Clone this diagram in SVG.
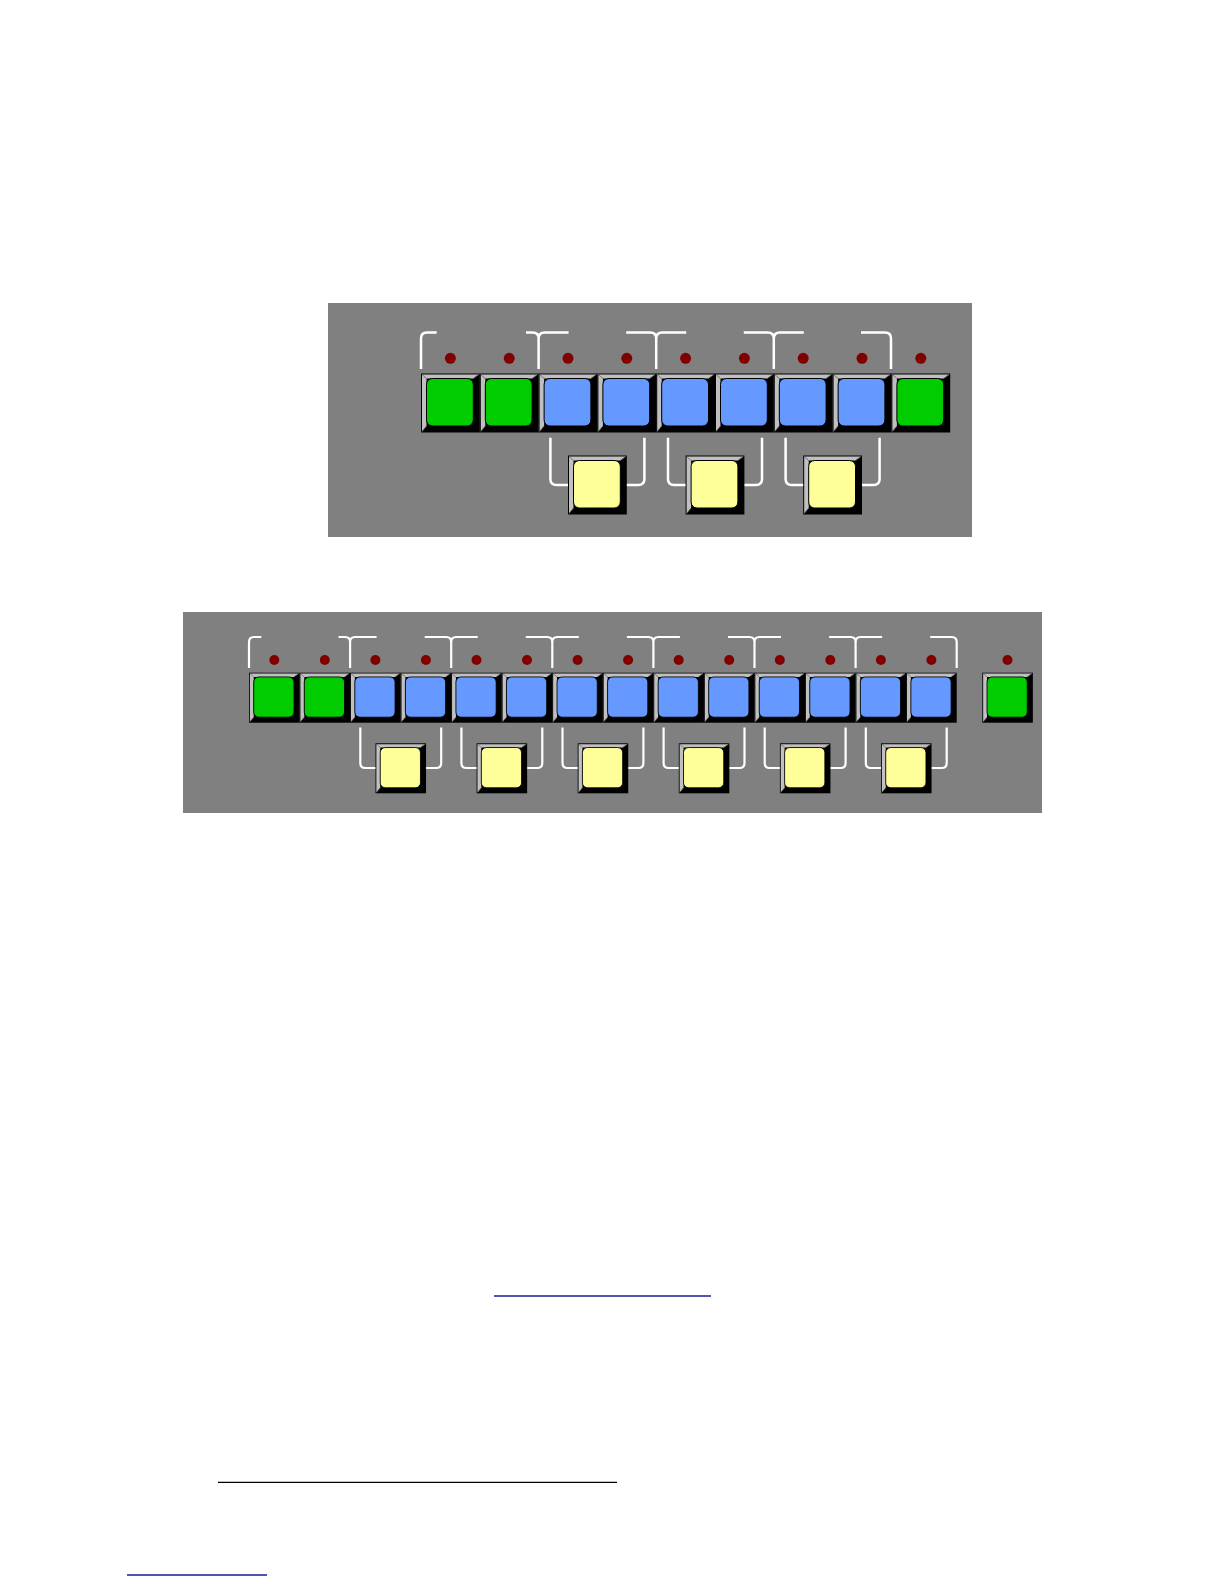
<svg xmlns="http://www.w3.org/2000/svg" xmlns:xlink="http://www.w3.org/1999/xlink" width="1224" height="1584" viewBox="0 0 1224 1584">
<style>
.panel{fill:#808080}
.br1{fill:none;stroke:#ffffff;stroke-width:2.5;stroke-linecap:butt}
.br2{fill:none;stroke:#ffffff;stroke-width:2.2;stroke-linecap:butt}
.led{fill:#800000}
.g{fill:#00cc00}
.b{fill:#6699ff}
.y{fill:#ffff99}
</style>
<defs>
<g id="btn">
<rect x="0" y="0" width="58.8" height="59" fill="#000000"/>
<polygon points="1,1 57.8,1 52.3,5 5.5,5 5.5,52.5 1,58" fill="#c0c0c0"/>
<path d="M1,1 L5.5,5 M57.8,1 L52.3,5 M1,58 L5.5,52.5" stroke="#606060" stroke-width="0.8" fill="none"/>
<rect x="5.5" y="5" width="46.8" height="47.5" rx="6" ry="6" stroke="#000000" stroke-width="1"/>
</g>
</defs>
<rect x="0" y="0" width="1224" height="1584" fill="#ffffff"/>

<g id="panel1">
<rect class="panel" x="328" y="303" width="644" height="234"/>
</g>
<g id="panel2">
<rect class="panel" x="183" y="612" width="859" height="201"/>
</g>

<g id="connectors">
<!-- panel 1 top brackets -->
<path class="br1" d="M421,369 V338.5 Q421,332.5 427,332.5 H436.7"/>
<path class="br1" d="M526,332.5 H532.6 Q538.6,332.5 538.6,338.5 V369 M568.6,332.5 H544.6 Q538.6,332.5 538.6,338.5"/>
<path class="br1" d="M626.2,332.5 H650.2 Q656.2,332.5 656.2,338.5 V369 M686.2,332.5 H662.2 Q656.2,332.5 656.2,338.5"/>
<path class="br1" d="M743.8,332.5 H767.8 Q773.8,332.5 773.8,338.5 V369 M803.8,332.5 H779.8 Q773.8,332.5 773.8,338.5"/>
<path class="br1" d="M861,332.5 H885 Q891,332.5 891,338.5 V369"/>
<!-- panel 1 bottom brackets -->
<path class="br1" d="M550.4,437.7 V479 Q550.4,485 556.4,485 H638.4 Q644.4,485 644.4,479 V437.7"/>
<path class="br1" d="M668,437.7 V479 Q668,485 674,485 H756 Q762,485 762,479 V437.7"/>
<path class="br1" d="M785.6,437.7 V479 Q785.6,485 791.6,485 H873.6 Q879.6,485 879.6,479 V437.7"/>
<!-- panel 2 top brackets -->
<path class="br2" d="M249,668 V642 Q249,637 254,637 H261.3"/>
<path class="br2" d="M338.5,637 H345.1 Q350.1,637 350.1,642 V668 M376.6,637 H355.1 Q350.1,637 350.1,642"/>
<path class="br2" d="M424.7,637 H446.2 Q451.2,637 451.2,642 V668 M477.7,637 H456.2 Q451.2,637 451.2,642"/>
<path class="br2" d="M525.8,637 H547.3 Q552.3,637 552.3,642 V668 M578.8,637 H557.3 Q552.3,637 552.3,642"/>
<path class="br2" d="M626.9,637 H648.4 Q653.4,637 653.4,642 V668 M679.9,637 H658.4 Q653.4,637 653.4,642"/>
<path class="br2" d="M728,637 H749.5 Q754.5,637 754.5,642 V668 M781,637 H759.5 Q754.5,637 754.5,642"/>
<path class="br2" d="M829.1,637 H850.6 Q855.6,637 855.6,642 V668 M882.1,637 H860.6 Q855.6,637 855.6,642"/>
<path class="br2" d="M930.2,637 H951.7 Q956.7,637 956.7,642 V668"/>
<!-- panel 2 bottom brackets -->
<path class="br2" d="M360.3,727.5 V763 Q360.3,768 365.3,768 H436.2 Q441.2,768 441.2,763 V727.5"/>
<path class="br2" d="M461.4,727.5 V763 Q461.4,768 466.4,768 H537.3 Q542.3,768 542.3,763 V727.5"/>
<path class="br2" d="M562.5,727.5 V763 Q562.5,768 567.5,768 H638.4 Q643.4,768 643.4,763 V727.5"/>
<path class="br2" d="M663.6,727.5 V763 Q663.6,768 668.6,768 H739.5 Q744.5,768 744.5,763 V727.5"/>
<path class="br2" d="M764.7,727.5 V763 Q764.7,768 769.7,768 H840.6 Q845.6,768 845.6,763 V727.5"/>
<path class="br2" d="M865.8,727.5 V763 Q865.8,768 870.8,768 H941.7 Q946.7,768 946.7,763 V727.5"/>
</g>

<g id="leds1">
<circle class="led" cx="450.4" cy="358.3" r="5.5"/>
<circle class="led" cx="509.2" cy="358.3" r="5.5"/>
<circle class="led" cx="568" cy="358.3" r="5.5"/>
<circle class="led" cx="626.8" cy="358.3" r="5.5"/>
<circle class="led" cx="685.6" cy="358.3" r="5.5"/>
<circle class="led" cx="744.4" cy="358.3" r="5.5"/>
<circle class="led" cx="803.2" cy="358.3" r="5.5"/>
<circle class="led" cx="862" cy="358.3" r="5.5"/>
<circle class="led" cx="920.8" cy="358.3" r="5.5"/>
</g>

<g id="p1-row">
<use id="p1b1" xlink:href="#btn" href="#btn" class="g" transform="translate(421,373.5)"/>
<use id="p1b2" xlink:href="#btn" href="#btn" class="g" transform="translate(479.8,373.5)"/>
<use id="p1b3" xlink:href="#btn" href="#btn" class="b" transform="translate(538.6,373.5)"/>
<use id="p1b4" xlink:href="#btn" href="#btn" class="b" transform="translate(597.4,373.5)"/>
<use id="p1b5" xlink:href="#btn" href="#btn" class="b" transform="translate(656.2,373.5)"/>
<use id="p1b6" xlink:href="#btn" href="#btn" class="b" transform="translate(715,373.5)"/>
<use id="p1b7" xlink:href="#btn" href="#btn" class="b" transform="translate(773.8,373.5)"/>
<use id="p1b8" xlink:href="#btn" href="#btn" class="b" transform="translate(832.6,373.5)"/>
<use id="p1b9" xlink:href="#btn" href="#btn" class="g" transform="translate(891.4,373.5)"/>
</g>
<g id="p1-yellow">
<use id="p1y1" xlink:href="#btn" href="#btn" class="y" transform="translate(568,455.5)"/>
<use id="p1y2" xlink:href="#btn" href="#btn" class="y" transform="translate(685.6,455.5)"/>
<use id="p1y3" xlink:href="#btn" href="#btn" class="y" transform="translate(803.2,455.5)"/>
</g>

<g id="leds2">
<circle class="led" cx="274.3" cy="660" r="5"/>
<circle class="led" cx="324.8" cy="660" r="5"/>
<circle class="led" cx="375.4" cy="660" r="5"/>
<circle class="led" cx="425.9" cy="660" r="5"/>
<circle class="led" cx="476.5" cy="660" r="5"/>
<circle class="led" cx="527" cy="660" r="5"/>
<circle class="led" cx="577.6" cy="660" r="5"/>
<circle class="led" cx="628.1" cy="660" r="5"/>
<circle class="led" cx="678.7" cy="660" r="5"/>
<circle class="led" cx="729.2" cy="660" r="5"/>
<circle class="led" cx="779.8" cy="660" r="5"/>
<circle class="led" cx="830.3" cy="660" r="5"/>
<circle class="led" cx="880.9" cy="660" r="5"/>
<circle class="led" cx="931.4" cy="660" r="5"/>
<circle class="led" cx="1007.5" cy="660" r="5"/>
</g>

<g id="p2-row">
<use id="p2b1" xlink:href="#btn" href="#btn" class="g" transform="translate(249,672.7) scale(0.8597,0.8475)"/>
<use id="p2b2" xlink:href="#btn" href="#btn" class="g" transform="translate(299.55,672.7) scale(0.8597,0.8475)"/>
<use id="p2b3" xlink:href="#btn" href="#btn" class="b" transform="translate(350.1,672.7) scale(0.8597,0.8475)"/>
<use id="p2b4" xlink:href="#btn" href="#btn" class="b" transform="translate(400.65,672.7) scale(0.8597,0.8475)"/>
<use id="p2b5" xlink:href="#btn" href="#btn" class="b" transform="translate(451.2,672.7) scale(0.8597,0.8475)"/>
<use id="p2b6" xlink:href="#btn" href="#btn" class="b" transform="translate(501.75,672.7) scale(0.8597,0.8475)"/>
<use id="p2b7" xlink:href="#btn" href="#btn" class="b" transform="translate(552.3,672.7) scale(0.8597,0.8475)"/>
<use id="p2b8" xlink:href="#btn" href="#btn" class="b" transform="translate(602.85,672.7) scale(0.8597,0.8475)"/>
<use id="p2b9" xlink:href="#btn" href="#btn" class="b" transform="translate(653.4,672.7) scale(0.8597,0.8475)"/>
<use id="p2b10" xlink:href="#btn" href="#btn" class="b" transform="translate(703.95,672.7) scale(0.8597,0.8475)"/>
<use id="p2b11" xlink:href="#btn" href="#btn" class="b" transform="translate(754.5,672.7) scale(0.8597,0.8475)"/>
<use id="p2b12" xlink:href="#btn" href="#btn" class="b" transform="translate(805.05,672.7) scale(0.8597,0.8475)"/>
<use id="p2b13" xlink:href="#btn" href="#btn" class="b" transform="translate(855.6,672.7) scale(0.8597,0.8475)"/>
<use id="p2b14" xlink:href="#btn" href="#btn" class="b" transform="translate(906.15,672.7) scale(0.8597,0.8475)"/>
<use id="p2b15" xlink:href="#btn" href="#btn" class="g" transform="translate(982.3,672.7) scale(0.8597,0.8475)"/>
</g>
<g id="p2-yellow">
<use id="p2y1" xlink:href="#btn" href="#btn" class="y" transform="translate(375.5,743.3) scale(0.8597,0.8475)"/>
<use id="p2y2" xlink:href="#btn" href="#btn" class="y" transform="translate(476.6,743.3) scale(0.8597,0.8475)"/>
<use id="p2y3" xlink:href="#btn" href="#btn" class="y" transform="translate(577.7,743.3) scale(0.8597,0.8475)"/>
<use id="p2y4" xlink:href="#btn" href="#btn" class="y" transform="translate(678.8,743.3) scale(0.8597,0.8475)"/>
<use id="p2y5" xlink:href="#btn" href="#btn" class="y" transform="translate(779.9,743.3) scale(0.8597,0.8475)"/>
<use id="p2y6" xlink:href="#btn" href="#btn" class="y" transform="translate(881,743.3) scale(0.8597,0.8475)"/>
</g>

<g id="rules">
<line x1="494" y1="1296" x2="711" y2="1296" stroke="#1a1a99" stroke-width="1.5"/>
<line x1="218" y1="1482.3" x2="617" y2="1482.3" stroke="#000000" stroke-width="1.3"/>
<line x1="127" y1="1575" x2="267" y2="1575" stroke="#1a1a99" stroke-width="1.5"/>
</g>
</svg>
